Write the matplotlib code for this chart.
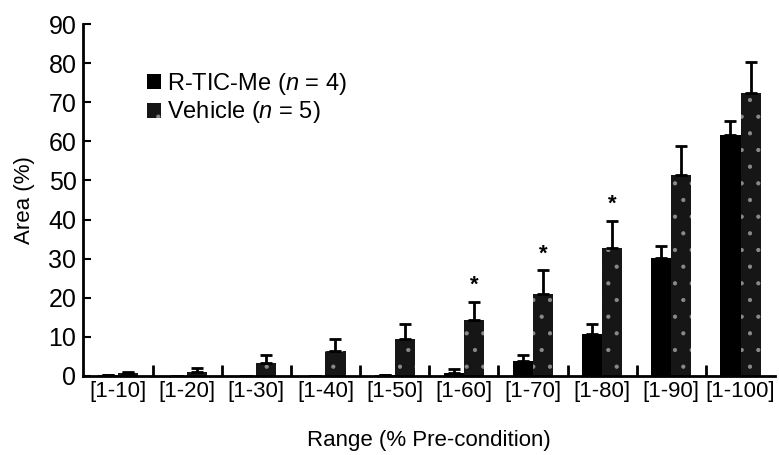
import numpy as np
import matplotlib
matplotlib.use("Agg")
import matplotlib.pyplot as plt
from matplotlib.patches import Patch

plt.rcParams['font.family'] = ['Liberation Sans', 'DejaVu Sans']
plt.rcParams['mathtext.fontset'] = 'custom'
plt.rcParams['mathtext.it'] = 'Liberation Sans:italic'
plt.rcParams['mathtext.rm'] = 'Liberation Sans'
plt.rcParams['hatch.color'] = '#8a8a8a'
plt.rcParams['hatch.linewidth'] = 0.6

categories = ['[1-10]', '[1-20]', '[1-30]', '[1-40]', '[1-50]',
              '[1-60]', '[1-70]', '[1-80]', '[1-90]', '[1-100]']
rtic = [0.3, 0, 0, 0, 0.3, 0.8, 3.8, 10.8, 30.1, 61.5]
rtic_err = [0, 0, 0, 0, 0, 1.0, 1.6, 2.5, 3.1, 3.7]
vehicle = [0.6, 1.1, 3.3, 6.4, 9.5, 14.2, 21.0, 32.8, 51.3, 72.3]
vehicle_err = [0.3, 1.0, 2.1, 3.1, 3.8, 4.8, 6.0, 6.9, 7.4, 7.9]
signif = [5, 6, 7]  # groups with asterisk

fig = plt.figure(figsize=(7.79, 4.55), dpi=100)
ax = fig.add_axes([0.107, 0.174, 0.888, 0.773])

x = np.arange(len(categories))
w = 0.29
zeros = np.zeros(len(x))

ax.bar(x - w / 2, rtic, w, color='black',
       yerr=[zeros, rtic_err], capsize=4,
       error_kw=dict(elinewidth=2, capthick=2, ecolor='black'))
ax.bar(x + w / 2, vehicle, w, color='#161616', hatch='.',
       yerr=[zeros, vehicle_err], capsize=4,
       error_kw=dict(elinewidth=2, capthick=2, ecolor='black'))

for i in signif:
    ax.text(x[i] + w / 2, vehicle[i] + vehicle_err[i] + 1.5, '*',
            ha='center', va='bottom', fontsize=16, fontweight='bold')

ax.set_xlim(-0.5, 9.5)
ax.set_ylim(0, 90)
ax.set_yticks(range(0, 91, 10))
ax.set_xticks(x)
ax.set_xticklabels(categories, fontsize=16)
ax.set_xticks(x[:-1] + 0.5, minor=True)
ax.tick_params(axis='x', which='major', length=0, pad=4)
ax.tick_params(axis='x', which='minor', direction='in', length=8, width=2)
ax.tick_params(axis='y', direction='in', length=6, width=1.5, labelsize=18, pad=5)

ax.spines['top'].set_visible(False)
ax.spines['right'].set_visible(False)
ax.spines['left'].set_linewidth(2)
ax.spines['bottom'].set_linewidth(2)

ax.set_ylabel('Area (%)', fontsize=16, labelpad=10)
ax.set_xlabel('Range (% Pre-condition)', fontsize=16, labelpad=20)

handles = [Patch(facecolor='black'),
           Patch(facecolor='#161616', hatch='.')]
labels = ['R-TIC-Me ($n$ = 4)', 'Vehicle ($n$ = 5)']
ax.legend(handles, labels, loc='upper left', bbox_to_anchor=(0.075, 0.9),
          frameon=False, fontsize=17, handlelength=0.6, handleheight=0.6,
          handletextpad=0.25, labelspacing=0.1, borderpad=0)

fig.savefig('out.png', dpi=100)
